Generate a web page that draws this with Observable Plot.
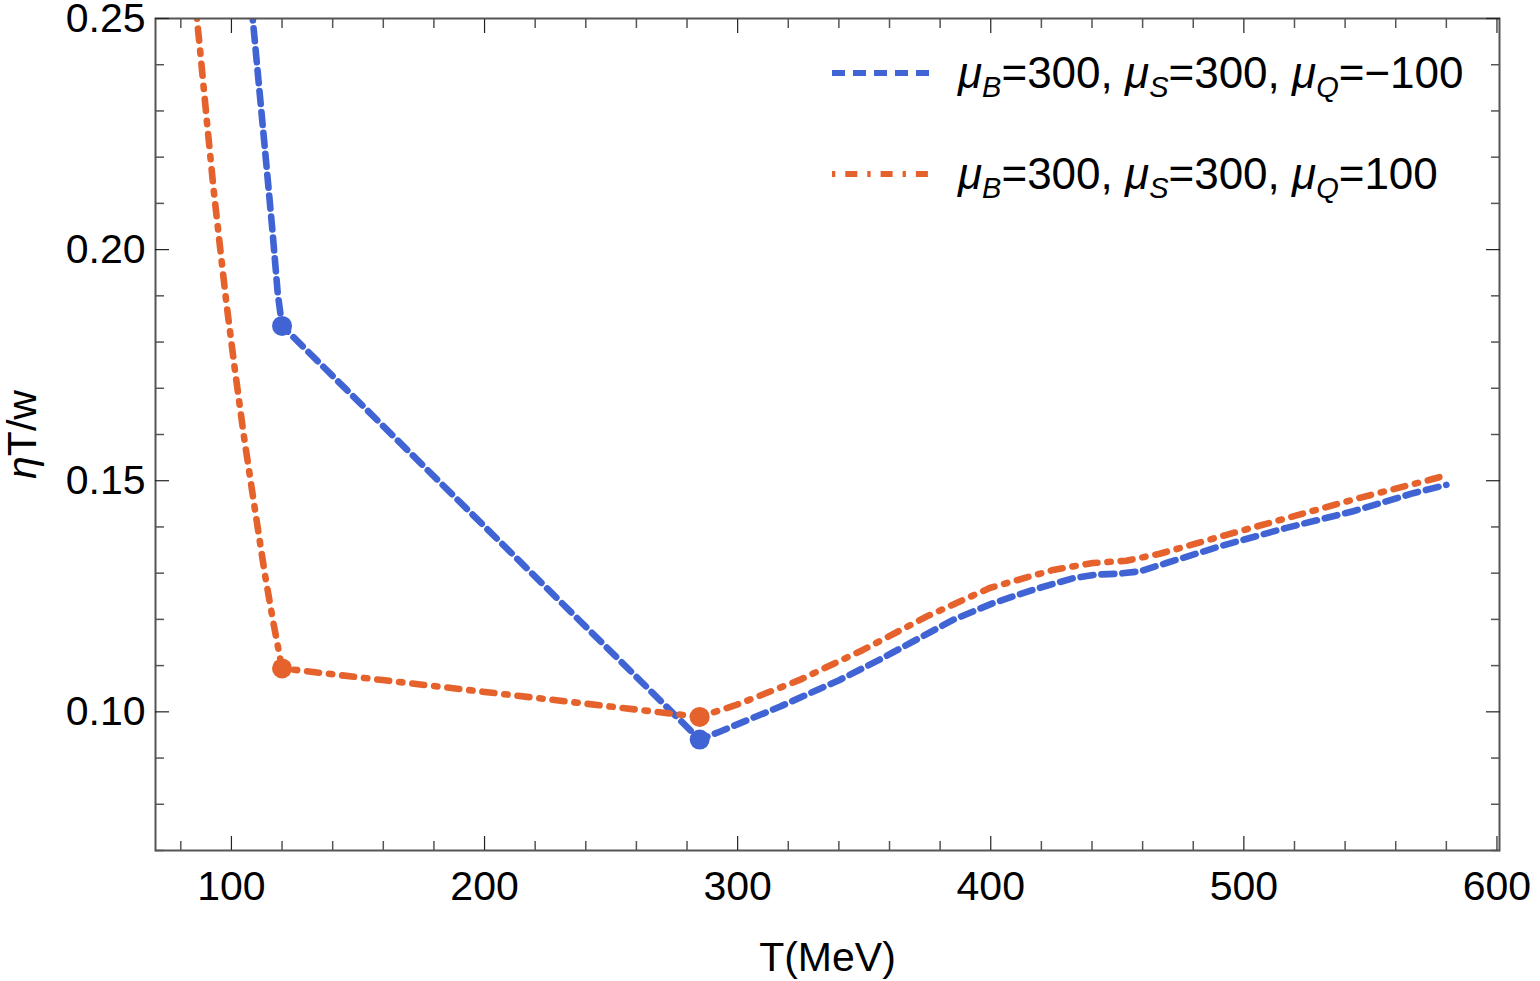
<!DOCTYPE html>
<html>
<head>
<meta charset="utf-8">
<script src="https://cdn.jsdelivr.net/npm/d3@7"></script>
<script src="https://cdn.jsdelivr.net/npm/@observablehq/plot@0.6"></script>
<style>
  html, body { margin: 0; padding: 0; background: #fff; }
  #chart svg { display: block; }
</style>
</head>
<body>
<div id="chart"></div>
<script>
// ---- data ----
const blueT   = [104, 108.4, 113.7, 116.3, 118.3, 120, 285, 292.9, 316.6, 340.3, 356.1, 370.6, 385.1, 400.9, 416.7, 432.5, 441.8, 451, 458.9, 469.4, 490.5, 516.8, 543.2, 566.9, 580];
const blueEta = [0.275, 0.250, 0.219, 0.2035, 0.1905, 0.1835, 0.0940, 0.0957, 0.1011, 0.1069, 0.1113, 0.1156, 0.1199, 0.1235, 0.1264, 0.1289, 0.1297, 0.1299, 0.1304, 0.1322, 0.1358, 0.1398, 0.1434, 0.1473, 0.1491];

const orangeT   = [84, 87.75, 90.4, 93.0, 95.65, 98, 101.2, 104.9, 109.0, 113.2, 116.5, 120, 285, 299.5, 324.5, 349.5, 374.6, 399.6, 424.6, 440.4, 453.6, 466.8, 493.2, 519.5, 545.8, 573.5, 580.8];
const orangeEta = [0.263, 0.2424, 0.2272, 0.2128, 0.1998, 0.1885, 0.1747, 0.1597, 0.1448, 0.1298, 0.1195, 0.1094, 0.0989, 0.1015, 0.1069, 0.1134, 0.1206, 0.1268, 0.1307, 0.1322, 0.1327, 0.1342, 0.1383, 0.1423, 0.1463, 0.1502, 0.1513];

const markT         = [120, 285];
const blueMarkEta   = [0.1835, 0.0940];
const orangeMarkEta = [0.1094, 0.0989];

const xMajor = [100, 200, 300, 400, 500, 600];
const xMinor = [80, 120, 140, 160, 180, 220, 240, 260, 280, 320, 340, 360, 380, 420, 440, 460, 480, 520, 540, 560, 580];
const yMajor = [0.10, 0.15, 0.20, 0.25];
const yMinor = [0.07, 0.08, 0.09, 0.11, 0.12, 0.13, 0.14, 0.16, 0.17, 0.18, 0.19, 0.21, 0.22, 0.23, 0.24];

const seriesNames = ["μB=300, μS=300, μQ=−100", "μB=300, μS=300, μQ=100"];

// ---- tables ----
const blue   = blueT.map((T, i) => ({T, eta: blueEta[i]}));
const orange = orangeT.map((T, i) => ({T, eta: orangeEta[i]}));
const blueMarks   = markT.map((T, i) => ({T, eta: blueMarkEta[i]}));
const orangeMarks = markT.map((T, i) => ({T, eta: orangeMarkEta[i]}));

const BLUE = "#4064d4";
const ORANGE = "#e6622c";
const FONT = "'Liberation Sans', Arial, Helvetica, sans-serif";
const LW = 6.6;
const BLUE_DASH = "13,8";
const ORANGE_DASH = "12,10,3.3,10";

const majorTick = {stroke: "#222", strokeWidth: 1.2, fill: "none", label: null};
const minorTick = {stroke: "#555", strokeWidth: 1.5, fill: "none", label: null};

const chart = Plot.plot({
  width: 1540,
  height: 981,
  marginLeft: 155,
  marginRight: 41,
  marginTop: 18,
  marginBottom: 131,
  style: {fontFamily: FONT, fontSize: "41px", background: "#fff", color: "#000"},
  x: {domain: [70, 601]},
  y: {domain: [0.07, 0.25]},
  marks: [
    Plot.line(blue,   {x: "T", y: "eta", stroke: BLUE,   strokeWidth: LW, strokeDasharray: BLUE_DASH, clip: true}),
    Plot.line(orange, {x: "T", y: "eta", stroke: ORANGE, strokeWidth: LW, strokeDasharray: ORANGE_DASH, clip: true}),
    Plot.dot(blueMarks,   {x: "T", y: "eta", r: 10, fill: BLUE,   stroke: "none"}),
    Plot.dot(orangeMarks, {x: "T", y: "eta", r: 10, fill: ORANGE, stroke: "none"}),
    Plot.frame({stroke: "#555", strokeWidth: 2}),
    // inward ticks on all four sides
    Plot.axisX(xMajor, {anchor: "bottom", tickSize: -14, ...majorTick}),
    Plot.axisX(xMinor, {anchor: "bottom", tickSize: -9, ...minorTick}),
    Plot.axisX(xMajor, {anchor: "top", tickSize: -14, ...majorTick}),
    Plot.axisX(xMinor, {anchor: "top", tickSize: -9, ...minorTick}),
    Plot.axisY(yMajor, {anchor: "left", tickSize: -14, ...majorTick}),
    Plot.axisY(yMinor, {anchor: "left", tickSize: -9, ...minorTick}),
    Plot.axisY(yMajor, {anchor: "right", tickSize: -14, ...majorTick}),
    Plot.axisY(yMinor, {anchor: "right", tickSize: -9, ...minorTick}),
    // labels
    Plot.axisX(xMajor, {anchor: "bottom", tickSize: 0, tickPadding: 20, fontSize: 41, fill: "#000",
      label: "T(MeV)", labelAnchor: "center", labelOffset: 120, labelArrow: "none"}),
    Plot.axisY(yMajor, {anchor: "left", tickSize: 0, tickPadding: 10, fontSize: 41, fill: "#000",
      tickFormat: d3.format(".2f"),
      label: "ηT/w", labelAnchor: "center", labelOffset: 149, labelArrow: "none"})
  ]
});

document.getElementById("chart").append(chart);

// italic eta in the y label
const svg = d3.select(chart);
svg.selectAll("text").each(function () {
  const t = d3.select(this);
  if (this.textContent.includes("T/w")) {
    t.text(null);
    t.append("tspan").attr("font-style", "italic").text("η");
    t.append("tspan").text("T/w");
  }
});

// legend inside the frame
const legend = svg.append("g")
  .attr("font-family", FONT)
  .attr("fill", "#000")
  .attr("text-anchor", "start");
const legendRows = [
  {color: BLUE, dash: BLUE_DASH, offset: 0, y: 73, subs: ["B", "S", "Q"], vals: ["=300, ", "=300, ", "=−100"]},
  {color: ORANGE, dash: ORANGE_DASH, offset: 22, y: 174, subs: ["B", "S", "Q"], vals: ["=300, ", "=300, ", "=100"]}
];
legendRows.forEach((row, k) => {
  legend.append("line")
    .attr("x1", 832).attr("x2", 929)
    .attr("y1", row.y).attr("y2", row.y)
    .attr("stroke", row.color).attr("stroke-width", 5.8)
    .attr("stroke-dasharray", row.dash)
    .attr("stroke-dashoffset", row.offset);
  const txt = legend.append("text")
    .attr("x", 958).attr("y", row.y + 15)
    .attr("font-size", 44)
    .attr("text-anchor", "start")
    .attr("aria-label", seriesNames[k]);
  row.subs.forEach((s, i) => {
    txt.append("tspan").attr("font-style", "italic").text("μ");
    txt.append("tspan").attr("font-style", "italic").attr("font-size", 29).attr("dy", 9).text(s);
    txt.append("tspan").attr("dy", -9).text(row.vals[i]);
  });
});
</script>
</body>
</html>
